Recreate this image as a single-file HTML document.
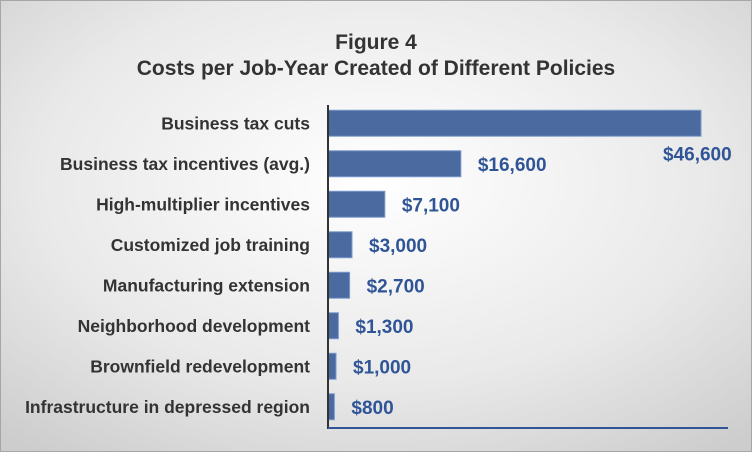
<!DOCTYPE html>
<html><head><meta charset="utf-8"><style>
body{margin:0;width:752px;height:452px;overflow:hidden}
svg{display:block;font-family:"Liberation Sans",sans-serif}
</style></head><body>
<svg id="chart" width="752" height="452">
<defs>
<radialGradient id="bg" cx="50%" cy="40%" r="75%">
<stop offset="0" stop-color="#ffffff"/><stop offset="0.6" stop-color="#e9e9e9"/><stop offset="1" stop-color="#cdcdcd"/>
</radialGradient>
</defs>
<rect x="0.5" y="0.5" width="751" height="451" fill="url(#bg)" stroke="#a6a6a6"/>
<text x="376" y="49" text-anchor="middle" font-size="21" font-weight="bold" fill="#333">Figure 4</text>
<text x="376" y="75" text-anchor="middle" font-size="21" font-weight="bold" fill="#333">Costs per Job-Year Created of Different Policies</text>
<g id="bars"></g>
<line x1="328" y1="105" x2="328" y2="429" stroke="#333" stroke-width="2"/>
<line x1="328" y1="428" x2="728" y2="428" stroke="#2f5597" stroke-width="2"/>
</svg>
<script>
const categories=["Business tax cuts","Business tax incentives (avg.)","High-multiplier incentives","Customized job training","Manufacturing extension","Neighborhood development","Brownfield redevelopment","Infrastructure in depressed region"];
const values=[46600,16600,7100,3000,2700,1300,1000,800];
const valueLabels=["$46,600","$16,600","$7,100","$3,000","$2,700","$1,300","$1,000","$800"];
const x0=328, xMax=46600, pxMax=701;
const xScale=v=>x0+(v/xMax)*(pxMax-x0);
const yTop=103, band=40.5;
const yScale=i=>yTop+i*band;
const ns="http://www.w3.org/2000/svg";
const g=document.getElementById('bars');
categories.forEach((c,i)=>{
  const yc=yScale(i)+band/2;
  const r=document.createElementNS(ns,'rect');
  
  
  r.setAttribute('x',x0);r.setAttribute('y',yc-13);
  r.setAttribute('width',xScale(values[i])-x0);r.setAttribute('height',26);
  r.setAttribute('fill','#4a6aa0');r.setAttribute('stroke','#7d9bcc');r.setAttribute('stroke-width','1');
  g.appendChild(r);
  const t=document.createElementNS(ns,'text');
  
  
  t.setAttribute('x',310);t.setAttribute('y',yc+6);t.setAttribute('text-anchor','end');
  t.setAttribute('font-size','17.5');t.setAttribute('font-weight','bold');t.setAttribute('fill','#333');
  t.textContent=c;g.appendChild(t);
  const v=document.createElementNS(ns,'text');
  
  
  let vx=xScale(values[i])+17, vy=yc+7;
  if(vx+80>745){vx=xScale(values[i])-38;vy=yc+37;}
  v.setAttribute('x',vx);v.setAttribute('y',vy);
  v.setAttribute('font-size','19');v.setAttribute('font-weight','bold');v.setAttribute('fill','#2f5597');
  v.textContent=valueLabels[i];g.appendChild(v);
});
</script>
</body></html>
